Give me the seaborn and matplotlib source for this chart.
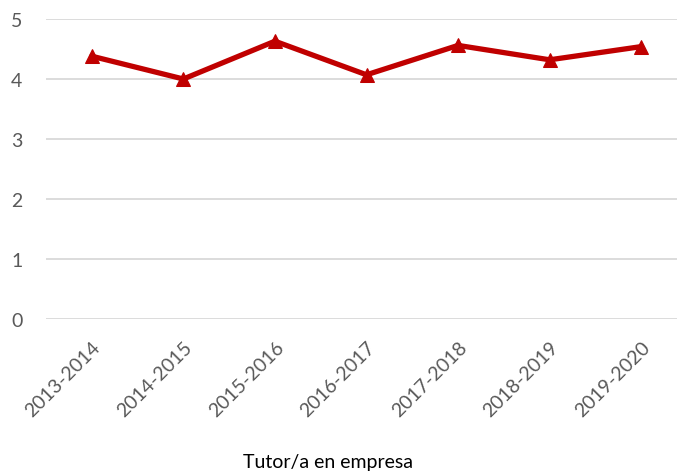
import matplotlib
matplotlib.use("Agg")
import matplotlib.pyplot as plt
import seaborn as sns
import pandas as pd

years = ["2013-2014", "2014-2015", "2015-2016", "2016-2017", "2017-2018", "2018-2019", "2019-2020"]
scores = [4.38, 4.00, 4.63, 4.07, 4.56, 4.32, 4.54]
series_name = "Tutor/a en empresa"

df = pd.DataFrame({"year": years, "score": scores})

sns.set_theme(style="white")
plt.rcParams['font.family'] = ['Lato', 'DejaVu Sans']

fig = plt.figure(figsize=(6.77, 4.77), dpi=100)
W, H = 677, 477
left, right, top, bottom = 46, 687, 20, 320
ax = fig.add_axes([left / W, 1 - bottom / H, (right - left) / W, (bottom - top) / H])

sns.lineplot(data=df, x="year", y="score", ax=ax, color="#C00000", linewidth=3.8,
             marker="^", markersize=10, markeredgecolor="#C00000", sort=False)

ax.set_ylim(0, 5)
ax.set_xlim(-0.5, len(years) - 0.5)
ax.set_yticks(range(0, 6))
ax.yaxis.grid(True, color="#D9D9D9", linewidth=1.3)
ax.set_axisbelow(True)
for s in ax.spines.values():
    s.set_visible(False)
ax.tick_params(axis="y", labelsize=14, labelcolor="#595959", length=0, pad=17)
ax.tick_params(axis="x", labelsize=14, labelcolor="#595959", length=0, pad=14)
plt.setp(ax.get_xticklabels(), rotation=45, ha="right", rotation_mode="anchor")
ax.set_xlabel("")
ax.set_ylabel("")

fig.text(328 / W, 1 - 463 / H, series_name, ha="center", va="center", fontsize=14, color="#000000")

fig.savefig("out.png", dpi=100)
